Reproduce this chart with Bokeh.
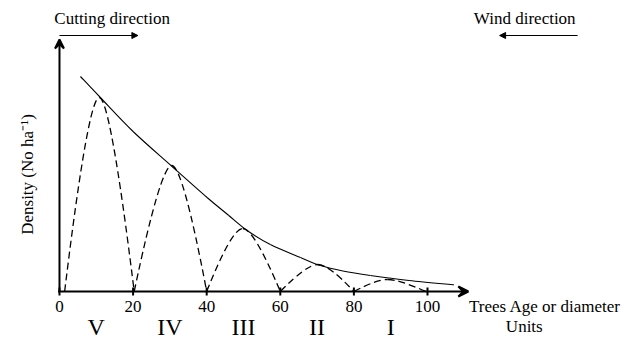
from bokeh.plotting import figure
from bokeh.models import Range1d, Arrow, NormalHead, VeeHead, ColumnDataSource
from bokeh.core.properties import value
from bokeh.embed import file_html
from bokeh.resources import INLINE

# ---- data ----
tick_values = [0, 20, 40, 60, 80, 100]
tick_labels = ["0", "20", "40", "60", "80", "100"]
class_x = [10, 30, 50, 70, 90]
class_labels = ["V", "IV", "III", "II", "I"]

# envelope (reverse-J curve), density in arbitrary units
env_x = [5.7, 11.1, 20, 30.6, 40.1, 46, 51, 57.3, 65.5, 70.9, 77, 84.5, 95, 107.2]
env_y = [215, 194, 160, 125, 94, 76, 61, 47, 34, 26, 20.5, 16, 11, 6.7]

# age-class arches (dashed)
arch_start = [1.4, 20.3, 40, 60, 80]
arch_peak_x = [10.8, 30.5, 49.8, 70.2, 89.2]
arch_peak_y = [194, 126, 63, 27, 12]
arch_end = [20.3, 40, 60, 80, 99.6]

x_axis_end = 111.1
y_axis_end = 252
arrow_level = 256

FONT = value("Liberation Serif")

p = figure(width=632, height=344, output_backend="svg", toolbar_location=None,
           x_range=Range1d(-16.03, -16.03 + 632 / 3.68),
           y_range=Range1d(291 - 344, 291),
           x_axis_location=None, y_axis_location=None, min_border=0)
p.grid.visible = False
p.outline_line_color = None
p.background_fill_color = "white"

# dashed arches: two quadratic halves each
rnd = 3.0
left = ColumnDataSource(dict(
    x0=arch_start, y0=[0] * 5, x1=arch_peak_x, y1=arch_peak_y,
    cx=[px - rnd for px in arch_peak_x], cy=arch_peak_y))
right = ColumnDataSource(dict(
    x0=arch_peak_x, y0=arch_peak_y, x1=arch_end, y1=[0] * 5,
    cx=[px + rnd for px in arch_peak_x], cy=arch_peak_y))
for src in (left, right):
    p.quadratic(x0="x0", y0="y0", x1="x1", y1="y1", cx="cx", cy="cy", source=src,
                line_color="black", line_width=1.3, line_dash="7 4")

# envelope drawn as smooth bezier segments through the read points
n = len(env_x)
px_ = [env_x[0]] + env_x + [env_x[-1]]
py_ = [env_y[0]] + env_y + [env_y[-1]]
seg = dict(x0=[], y0=[], x1=[], y1=[], cx0=[], cy0=[], cx1=[], cy1=[])
for i in range(1, n):
    seg["x0"].append(px_[i]); seg["y0"].append(py_[i])
    seg["x1"].append(px_[i + 1]); seg["y1"].append(py_[i + 1])
    seg["cx0"].append(px_[i] + (px_[i + 1] - px_[i - 1]) / 6)
    seg["cy0"].append(py_[i] + (py_[i + 1] - py_[i - 1]) / 6)
    seg["cx1"].append(px_[i + 1] - (px_[i + 2] - px_[i]) / 6)
    seg["cy1"].append(py_[i + 1] - (py_[i + 2] - py_[i]) / 6)
p.bezier(x0="x0", y0="y0", x1="x1", y1="y1", cx0="cx0", cy0="cy0",
         cx1="cx1", cy1="cy1", source=ColumnDataSource(seg),
         line_color="black", line_width=1.1)

# axes
p.add_layout(Arrow(end=VeeHead(size=10, line_width=2, line_color="black"),
                   x_start=-0.4, y_start=0, x_end=x_axis_end, y_end=0,
                   line_width=2, line_color="black"))
p.add_layout(Arrow(end=VeeHead(size=9, line_width=2, line_color="black"),
                   x_start=0, y_start=-0.5, x_end=0, y_end=y_axis_end,
                   line_width=2, line_color="black"))
p.segment(x0=tick_values, y0=[-4] * 6, x1=tick_values, y1=[4] * 6,
          line_color="black", line_width=2)

# tick labels
p.text(x=tick_values, y=[-15] * 6, text=tick_labels, text_font=FONT,
       text_font_size=value("17px"), text_align="center", text_baseline="middle",
       text_color="black")
# class labels
p.text(x=class_x, y=[-35] * 5, text=class_labels, text_font=FONT,
       text_font_size=value("24px"), text_align="center", text_baseline="middle",
       text_color="black")

p.text(x=[111.3], y=[-15], text=["Trees Age or diameter"], text_font=FONT,
       text_font_size=value("17px"), text_align="left", text_baseline="middle",
       text_color="black")
p.text(x=[126.3], y=[-35], text=["Units"], text_font=FONT,
       text_font_size=value("17px"), text_align="center", text_baseline="middle",
       text_color="black")

# y label
p.text(x=[-8.6], y=[117], text=["Density (No ha\u207b\u00b9)"], text_font=FONT,
       text_font_size=value("17px"), text_align="center", text_baseline="middle",
       angle=1.5708, text_color="black")

# direction annotations
p.text(x=[-1.4], y=[273], text=["Cutting direction"], text_font=FONT,
       text_font_size=value("17px"), text_align="left", text_baseline="middle",
       text_color="black")
p.add_layout(Arrow(end=NormalHead(size=6, fill_color="black", line_color="black"),
                   x_start=0, y_start=arrow_level, x_end=21.3, y_end=arrow_level,
                   line_width=1.2, line_color="black"))
p.text(x=[112.6], y=[273], text=["Wind direction"], text_font=FONT,
       text_font_size=value("17px"), text_align="left", text_baseline="middle",
       text_color="black")
p.add_layout(Arrow(end=NormalHead(size=6, fill_color="black", line_color="black"),
                   x_start=140.8, y_start=arrow_level, x_end=119.6, y_end=arrow_level,
                   line_width=1.2, line_color="black"))

open("out.html", "w").write(file_html(p, INLINE))
